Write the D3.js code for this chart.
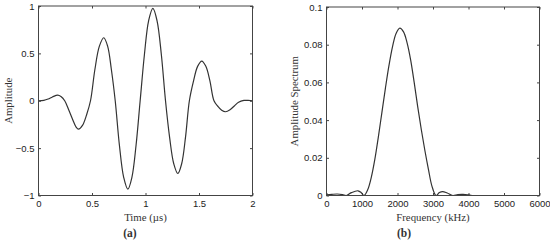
<!DOCTYPE html>
<html>
<head>
<meta charset="utf-8">
<script src="https://cdn.jsdelivr.net/npm/d3@7"></script>
<style>
  body { margin: 0; background: #fff; }
  .tick text { font-family: "Liberation Sans", Arial, sans-serif; font-size: 9.5px; fill: #222; }
  .title { font-family: "Liberation Serif", "Times New Roman", serif; fill: #333; }
</style>
</head>
<body>
<div id="chart"></div>
<script>
// (a) time signal
const timeUs = [0, 0.05, 0.09, 0.13, 0.18, 0.21, 0.245, 0.28, 0.32, 0.35, 0.374,
    0.411, 0.449, 0.486, 0.527, 0.569, 0.61, 0.646, 0.681, 0.717,
    0.756, 0.796, 0.835, 0.873, 0.912, 0.95, 0.99, 1.029, 1.069, 1.108, 1.148, 1.187,
    1.225, 1.264, 1.302, 1.338, 1.374, 1.41, 1.449, 1.487, 1.526, 1.564, 1.602, 1.64,
    1.676, 1.712, 1.748, 1.79, 1.83, 1.87, 1.92, 1.96, 2.0];
const amplitude = [0, 0.004, 0.018, 0.04, 0.06, 0.045, 0, -0.09, -0.2, -0.275, -0.30,
    -0.26, -0.15, 0, 0.33, 0.576, 0.665, 0.576, 0.33, 0,
    -0.467, -0.808, -0.933, -0.808, -0.467, 0, 0.488, 0.844, 0.975, 0.844, 0.488, 0,
    -0.384, -0.665, -0.768, -0.665, -0.384, 0, 0.21, 0.363, 0.419, 0.363, 0.21, 0,
    -0.058, -0.1, -0.116, -0.095, -0.055, -0.015, 0.003, 0.003, 0];
const timeTicks = [0, 0.5, 1, 1.5, 2];
const ampTicks = [-1, -0.5, 0, 0.5, 1];

// (b) spectrum
const freqKHz = [0, 150, 300, 450, 557, 700, 887, 980, 1057, 1160, 1260, 1360, 1460, 1560, 1660, 1760, 1860,
    1960, 2066, 2170, 2270, 2370, 2470, 2570, 2670, 2770, 2870, 2970, 3085, 3180, 3274, 3400, 3557,
    3700, 3850, 4000, 4100, 6000];
const spectrum = [0.0003, 0.0006, 0.0008, 0.0005, 0, 0.0015, 0.0025, 0.0015, 0, 0.003, 0.0095, 0.019, 0.031,
    0.044, 0.057, 0.069, 0.079, 0.086, 0.0888, 0.0868, 0.081, 0.072, 0.060, 0.047, 0.035, 0.024, 0.014,
    0.005, 0, 0.0016, 0.0021, 0.0013, 0, 0.0005, 0.0006, 0.0003, 0, 0];
const freqTicks = [0, 1000, 2000, 3000, 4000, 5000, 6000];
const specTicks = [0, 0.02, 0.04, 0.06, 0.08, 0.1];

const svg = d3.select("#chart").append("svg")
    .attr("width", 550)
    .attr("height", 243);

function drawPanel(opt) {
    const x = d3.scaleLinear().domain(opt.xDomain).range([opt.left, opt.right]);
    const y = d3.scaleLinear().domain(opt.yDomain).range([opt.bottom, opt.top]);
    const g = svg.append("g");

    // inward ticks on all four sides, like matlab
    g.append("g").attr("transform", `translate(0,${opt.bottom})`)
        .call(d3.axisBottom(x).tickValues(opt.xTicks).tickSizeInner(-2.5).tickSizeOuter(0).tickPadding(5).tickFormat(d3.format("")));
    g.append("g").attr("transform", `translate(0,${opt.top})`)
        .call(d3.axisTop(x).tickValues(opt.xTicks).tickSizeInner(-2.5).tickSizeOuter(0).tickFormat(""));
    g.append("g").attr("transform", `translate(${opt.left},0)`)
        .call(d3.axisLeft(y).tickValues(opt.yTicks).tickSizeInner(-2.5).tickSizeOuter(0).tickPadding(4).tickFormat(d3.format("")));
    g.append("g").attr("transform", `translate(${opt.right},0)`)
        .call(d3.axisRight(y).tickValues(opt.yTicks).tickSizeInner(-2.5).tickSizeOuter(0).tickFormat(""));
    g.selectAll(".domain").remove();
    g.selectAll(".tick line").attr("stroke", "#444");

    g.append("clipPath").attr("id", opt.id)
        .append("rect")
        .attr("x", opt.left).attr("y", opt.top)
        .attr("width", opt.right - opt.left).attr("height", opt.bottom - opt.top);

    const line = d3.line()
        .x((d, i) => x(opt.xs[i]))
        .y(d => y(d))
        .curve(d3.curveCatmullRom.alpha(0.5));
    g.append("path")
        .datum(opt.ys)
        .attr("clip-path", `url(#${opt.id})`)
        .attr("fill", "none")
        .attr("stroke", "#333")
        .attr("stroke-width", 1.2)
        .attr("d", line);

    g.append("rect")
        .attr("x", opt.left).attr("y", opt.top)
        .attr("width", opt.right - opt.left).attr("height", opt.bottom - opt.top)
        .attr("fill", "none").attr("stroke", "#444").attr("stroke-width", 1);

    g.append("text").attr("class", "title")
        .attr("x", (opt.left + opt.right) / 2).attr("y", 220.5)
        .attr("text-anchor", "middle").attr("font-size", "10.8px")
        .text(opt.xLabel);
    g.append("text").attr("class", "title")
        .attr("transform", `translate(${opt.yLabelX},${(opt.top + opt.bottom) / 2}) rotate(-90)`)
        .attr("text-anchor", "middle").attr("font-size", "10.8px")
        .text(opt.yLabel);
    g.append("text").attr("class", "title")
        .attr("x", opt.tagX).attr("y", 237)
        .attr("text-anchor", "middle").attr("font-size", "11.5px").attr("font-weight", "bold")
        .text(opt.tag);
}

drawPanel({
    id: "clipA",
    left: 38.5, right: 252.5, top: 6, bottom: 195.5,
    xDomain: [0, 2], yDomain: [-1, 1],
    xTicks: timeTicks, yTicks: ampTicks,
    xs: timeUs, ys: amplitude,
    xLabel: "Time (\u00b5s)", yLabel: "Amplitude", yLabelX: 12,
    tag: "(a)", tagX: 130
});

drawPanel({
    id: "clipB",
    left: 326.5, right: 539.5, top: 7, bottom: 195.5,
    xDomain: [0, 6000], yDomain: [0, 0.1],
    xTicks: freqTicks, yTicks: specTicks,
    xs: freqKHz, ys: spectrum,
    xLabel: "Frequency (kHz)", yLabel: "Amplitude Spectrum", yLabelX: 297.5,
    tag: "(b)", tagX: 404
});
</script>
</body>
</html>
